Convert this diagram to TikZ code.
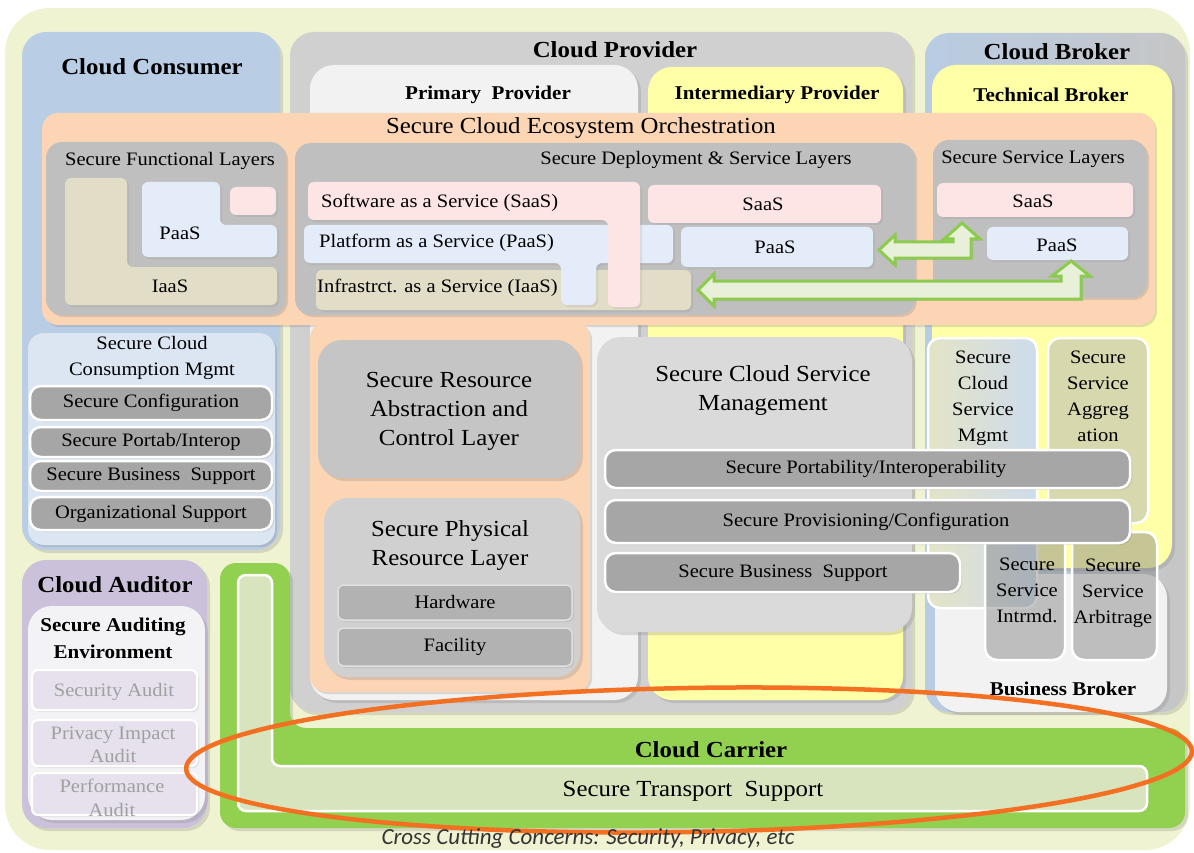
\documentclass[tikz,border=0pt]{standalone}
\usepackage{fontspec}
\setmainfont{Liberation Serif}[FakeStretch=1.08]
\newfontfamily\crossfont{Carlito}
\usetikzlibrary{shadows}

\definecolor{bgyellow}{HTML}{F0F3D2}
\definecolor{consumerblue}{HTML}{B9CDE5}
\definecolor{consumelight}{HTML}{DCE6F2}
\definecolor{providergrey}{HTML}{D0D0D0}
\definecolor{primarygrey}{HTML}{F2F2F2}
\definecolor{interyellow}{HTML}{FFFFA8}
\definecolor{brokerblue}{HTML}{B8CCE4}
\definecolor{brokergrey}{HTML}{C6C6C6}
\definecolor{orchorange}{HTML}{FCD5B4}
\definecolor{layergrey}{HTML}{BFBFBF}
\definecolor{saaspink}{HTML}{FDE5E5}
\definecolor{paasblue}{HTML}{E3ECF8}
\definecolor{iaastan}{HTML}{E2DDC7}
\definecolor{bardark}{HTML}{A6A6A6}
\definecolor{mgmtgrey}{HTML}{DADADA}
\definecolor{auditpurple}{HTML}{CCC1DA}
\definecolor{auditlight}{HTML}{F3F2F5}
\definecolor{audititem}{HTML}{E6E1EC}
\definecolor{audittext}{HTML}{A0A0A0}
\definecolor{carriergreen}{HTML}{92D050}
\definecolor{transportgreen}{HTML}{D7E4BD}
\definecolor{arrowgreen}{HTML}{8DCB4F}
\definecolor{arrowfill}{HTML}{E9F0DA}
\definecolor{ringorange}{HTML}{F36F21}
\definecolor{olivegrey}{HTML}{D8D8AE}

\tikzset{
  area/.style={rounded corners=24pt, drop shadow={opacity=.25, shadow xshift=3pt, shadow yshift=-3pt}},
  layer/.style={rounded corners=16pt, drop shadow={opacity=.25, shadow xshift=2pt, shadow yshift=-2pt}},
  tile/.style={rounded corners=6pt, drop shadow={opacity=.15, shadow xshift=2pt, shadow yshift=-2pt}},
  bar/.style={rounded corners=11pt, fill=bardark, draw=white, line width=2.5pt, drop shadow={opacity=.2, shadow xshift=2pt, shadow yshift=-2pt}},
  headline/.style={inner sep=0pt, font=\fontsize{23}{26}\selectfont\bfseries},
  subhead/.style={inner sep=0pt, align=center, font=\fontsize{19.5}{27}\selectfont\bfseries},
  txt/.style={inner sep=0pt, align=center, font=\fontsize{19}{26}\selectfont},
  bigtxt/.style={inner sep=0pt, align=center, font=\fontsize{23}{29}\selectfont},
  greenarrow/.style={draw=arrowgreen, fill=arrowfill, line width=3pt, line join=miter, drop shadow={opacity=.2, shadow xshift=2pt, shadow yshift=-2pt}}
}

\begin{document}
\begin{tikzpicture}[x=1pt,y=-1pt]
\useasboundingbox (0,0) rectangle (1194,853);
\fill[white] (0,0) rectangle (1194,853);

%cross cutting background
\fill[bgyellow, rounded corners=45pt] (5,8) rectangle (1190,850);

%cloud consumer
\fill[area, fill=consumerblue] (22,32) rectangle (280,550);
\node[headline] (consumer) at (152,67) {Cloud Consumer};

%cloud provider
\fill[area, fill=providergrey] (290,32) rectangle (912,712);
\node[headline] (provider) at (615,50) {Cloud Provider};
\fill[area, fill=primarygrey] (310,65) rectangle (638,700);
\node[subhead] (primary) at (488,95) {Primary~ Provider};
\fill[area, fill=interyellow] (648,67) rectangle (903,700);
\node[subhead] (intermediary) at (777,95) {Intermediary Provider};

%cloud broker
\path[area, left color=brokerblue, right color=brokergrey] (925,33) rectangle (1185,712);
\node[headline] (broker) at (1057,52) {Cloud Broker};
\fill[area, fill=interyellow] (932,65) rectangle (1172,568);
\node[subhead] (technical) at (1051,95) {Technical Broker};
\fill[area, fill=primarygrey] (935,574) rectangle (1167,712);
\node[subhead] (business) at (1063,689) {Business Broker};

%orchestration
\fill[layer, fill=orchorange] (42,113) rectangle (1155,325);
\node[bigtxt] (orchestration) at (581,128) {Secure Cloud Ecosystem Orchestration};

%functional layers
\fill[layer, fill=layergrey] (46,142) rectangle (286,315);
\node[txt] (functional) at (170,161) {Secure Functional Layers};
\fill[tile, fill=iaastan] (65,178) -- (127,178) -- (127,267) -- (277,267) -- (277,305) -- (65,305) -- cycle;
\fill[tile, fill=paasblue] (142,182) -- (220,182) -- (220,225) -- (277,225) -- (277,257) -- (142,257) -- cycle;
\fill[tile, fill=saaspink] (230,187) rectangle (276,215);
\node[txt] (f-paas) at (180,233) {PaaS};
\node[txt] (f-iaas) at (170,286) {IaaS};

%deployment and service layers
\fill[layer, fill=layergrey] (295,143) rectangle (915,315);
\node[txt] (deployment) at (696,160) {Secure Deployment \& Service Layers};
\fill[tile, fill=iaastan] (316,270) rectangle (691,310);
\fill[tile, fill=paasblue] (304,225) -- (673,225) -- (673,263) -- (596,263) -- (596,305) -- (561,305) -- (561,263) -- (304,263) -- cycle;
\fill[tile, fill=saaspink] (308,182) -- (640,182) -- (640,307) -- (608,307) -- (608,220) -- (308,220) -- cycle;
\node[txt, anchor=west] (d-saas) at (321,203) {Software as a Service (SaaS)};
\node[txt, anchor=west] (d-paas) at (319,243) {Platform as a Service (PaaS)};
\node[txt, anchor=west] (d-iaas) at (317,288) {Infrastrct. as a Service (IaaS)};
\fill[tile, fill=saaspink] (648,185) rectangle (881,223);
\fill[tile, fill=paasblue] (681,227) rectangle (873,267);
\node[txt] (i-saas) at (763,204) {SaaS};
\node[txt] (i-paas) at (775,247) {PaaS};

%service layers
\fill[layer, fill=layergrey] (933,140) rectangle (1147,298);
\node[txt] (service) at (1033,159) {Secure Service Layers};
\fill[tile, fill=saaspink] (937,183) rectangle (1133,217);
\fill[tile, fill=paasblue] (987,227) rectangle (1128,260);
\node[txt] (b-saas) at (1033,201) {SaaS};
\node[txt] (b-paas) at (1057,245) {PaaS};

%green arrows
\draw[greenarrow] (879,250) -- (895,235) -- (895,242) -- (953,242) -- (953,239) -- (944,239) -- (962,223) -- (980,239) -- (971,239) -- (971,258) -- (895,258) -- (895,265) -- cycle;
\draw[greenarrow] (698,290) -- (714,274) -- (714,281) -- (1061,281) -- (1061,276) -- (1052,276) -- (1071,261) -- (1090,276) -- (1081,276) -- (1081,299) -- (714,299) -- (714,306) -- cycle;

%consumption mgmt
\fill[layer, fill=consumelight] (28,333) rectangle (275,545);
\node[txt] (consumption) at (152,358) {Secure Cloud\\Consumption Mgmt};
\foreach \top/\bot/\name/\text in {386/420/cfg/{Secure Configuration}, 427/457/port/{Secure Portab/Interop}, 461/491/bss/{Secure Business~ Support}, 497/530/org/{Organizational Support}} {
  \draw[bar] (30,\top) rectangle (272,\bot);
  \node[txt] (cm-\name) at (151,{(\top+\bot)/2}) {\text};
}

%cloud auditor
\fill[area, fill=auditpurple] (22,560) rectangle (207,828);
\node[headline] (auditor) at (115,585) {Cloud Auditor};
\fill[area, fill=auditlight] (28,606) rectangle (205,820);
\node[subhead] (auditing) at (113,638) {Secure Auditing\\Environment};
\draw[tile, fill=audititem, draw=white, line width=2pt] (32,670) rectangle (197,710);
\draw[tile, fill=audititem, draw=white, line width=2pt] (32,720) rectangle (197,766);
\draw[tile, fill=audititem, draw=white, line width=2pt] (32,773) rectangle (197,815);
\node[txt, text=audittext] (security) at (114,692) {Security Audit};
\node[txt, text=audittext, font=\fontsize{19}{23}\selectfont] (privacy) at (113,745) {Privacy Impact\\Audit};
\node[txt, text=audittext, font=\fontsize{19}{24}\selectfont] (performance) at (112,798) {Performance\\Audit};

%resource layers
\fill[layer, fill=orchorange] (310,322) rectangle (590,692);
\fill[area, fill=layergrey!90!white] (318,340) rectangle (580,478);
\node[bigtxt] (abstraction) at (449,411) {Secure Resource\\Abstraction and\\Control Layer};
\fill[area, fill=providergrey] (324,498) rectangle (580,677);
\node[bigtxt] (physical) at (450,545) {Secure Physical\\Resource Layer};
\draw[tile, fill=black!30, draw=black!12, line width=1.5pt] (338,585) rectangle (572,620);
\draw[tile, fill=black!30, draw=black!12, line width=1.5pt] (338,628) rectangle (572,666);
\node[txt] (hardware) at (455,602) {Hardware};
\node[txt] (facility) at (455,647) {Facility};

%service management
\fill[area, fill=mgmtgrey] (597,337) rectangle (912,632);
\node[bigtxt] (management) at (763,391) {Secure Cloud Service\\Management};

%broker boxes
\draw[rounded corners=12pt, draw=white, line width=2.5pt, left color=olivegrey!70!white, right color=brokerblue!70!white] (928,338) rectangle (1037,608);
\node[txt] (b-mgmt) at (983,398) {Secure\\Cloud\\Service\\Mgmt};
\draw[rounded corners=12pt, draw=white, line width=2.5pt, fill=olivegrey] (1048,338) rectangle (1148,523);
\node[txt] (aggregation) at (1098,396) {Secure\\Service\\Aggreg\\ation};
\draw[rounded corners=12pt, draw=white, line width=2.5pt, fill=gray, fill opacity=.45] (985,530) rectangle (1065,660);
\node[txt] (intrmd) at (1027,590) {Secure\\Service\\Intrmd.};
\draw[rounded corners=12pt, draw=white, line width=2.5pt, fill=gray, fill opacity=.45] (1072,532) rectangle (1157,660);
\node[txt] (arbitrage) at (1113,593) {Secure\\Service\\Arbitrage};

%management bars
\draw[bar] (605,450) rectangle (1130,488);
\node[txt] (portability) at (866,469) {Secure Portability/Interoperability};
\draw[bar] (605,500) rectangle (1130,543);
\node[txt] (provisioning) at (866,522) {Secure Provisioning/Configuration};
\draw[bar] (605,553) rectangle (960,592);
\node[txt] (p-bss) at (783,573) {Secure Business~ Support};

%cloud carrier
\fill[rounded corners=16pt, fill=carriergreen, drop shadow={opacity=.25, shadow xshift=3pt, shadow yshift=-3pt}] (220,563) -- (290,563) -- (290,728) -- (1185,728) -- (1185,828) -- (220,828) -- cycle;
\draw[rounded corners=8pt, fill=transportgreen, draw=white, line width=2.5pt] (238,575) -- (272,575) -- (272,766) -- (1147,766) -- (1147,811) -- (238,811) -- cycle;
\node[headline] (carrier) at (711,750) {Cloud Carrier};
\node[bigtxt] (transport) at (693,791) {Secure Transport~ Support};

%cross cutting ring
\draw[ringorange, line width=4.5pt, rotate around={1:(689,760)}] (689,760) ellipse [x radius=503pt, y radius=72pt];
\node[inner sep=0pt, font=\crossfont\itshape\fontsize{23}{25}\selectfont, text=black!80] (cross) at (588,839) {Cross Cutting Concerns: Security, Privacy, etc};

\end{tikzpicture}
\end{document}
